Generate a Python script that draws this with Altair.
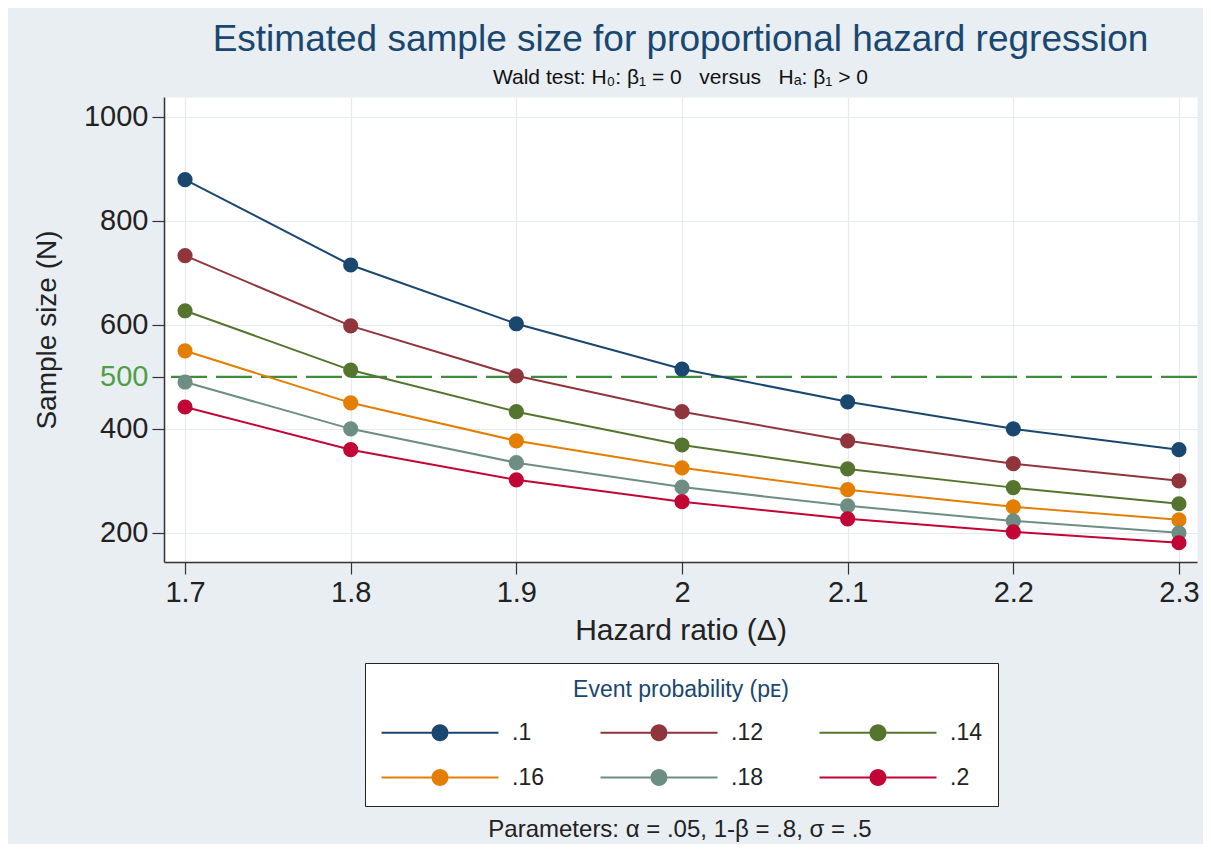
import altair as alt
import pandas as pd

# ---- data ----
hazard_ratio = [1.7, 1.8, 1.9, 2.0, 2.1, 2.2, 2.3]
event_prob = [".1", ".12", ".14", ".16", ".18", ".2"]
n_p10 = [879, 715, 602, 515, 452, 400, 360]
n_p12 = [733, 598, 502, 433, 377, 333, 300]
n_p14 = [627, 513, 433, 369, 323, 287, 256]
n_p16 = [550, 450, 377, 325, 283, 250, 225]
n_p18 = [490, 400, 335, 288, 252, 223, 200]
n_p20 = [442, 360, 302, 260, 227, 202, 181]
y_ticks = [200, 400, 500, 600, 800, 1000]
ref_line = [500]
note_text = ["Parameters: α = .05, 1-β = .8, σ = .5"]

series = [n_p10, n_p12, n_p14, n_p16, n_p18, n_p20]
rows = []
for p, vals in zip(event_prob, series):
    for h, n in zip(hazard_ratio, vals):
        rows.append({"hr": h, "N": n, "p": p})
df = pd.DataFrame(rows)

colors = ["#1a476f", "#90353b", "#55752f", "#e37e00", "#6e8e84", "#c10534"]
FONT = "Liberation Sans"

xscale = alt.Scale(domain=[1.6873, 2.3109], nice=False, zero=False)
yscale = alt.Scale(domain=[144, 1038], nice=False, zero=False)
cscale = alt.Scale(domain=event_prob, range=colors)

# custom legend symbol: line with a dot in the middle (units of 10 px)
sym = ("M-1.1,-0.1H3.9V0.1H-1.1Z "
       "M5.6,-0.1H10.6V0.1H5.6Z "
       "M5.6,0A0.85,0.85,0,1,1,3.9,0A0.85,0.85,0,1,1,5.6,0Z")

x_enc = alt.X("hr:Q", scale=xscale,
              axis=alt.Axis(values=hazard_ratio, format="~g", title="Hazard ratio (Δ)",
                            grid=True, titlePadding=8, titleFontSize=30))
y_enc = alt.Y("N:Q", scale=yscale,
              axis=alt.Axis(values=y_ticks, format="d", title="Sample size (N)", grid=True,
                            titlePadding=22, titleFontSize=28,
                            labelColor={"condition": {"test": "datum.value == 500", "value": "#4f9e45"},
                                        "value": "#222222"},
                            gridColor={"condition": {"test": "datum.value == 500", "value": "transparent"},
                                       "value": "#e4ebf0"}))

lines = alt.Chart(df).mark_line(strokeWidth=2).encode(
    x=x_enc, y=y_enc,
    color=alt.Color("p:N", scale=cscale, legend=None),
    detail="p:N",
)

points = alt.Chart(df).mark_circle(size=230, opacity=1).encode(
    x="hr:Q", y="N:Q",
    color=alt.Color("p:N", scale=cscale, sort=event_prob,
                    legend=alt.Legend(
                        title="Event probability (pᴇ)",
                        orient="none", legendX=201, legendY=566,
                        direction="horizontal", columns=3,
                        symbolType=sym, symbolSize=400, symbolStrokeWidth=0,
                        labelOffset=108, columnPadding=56, rowPadding=21,
                        padding=16, titlePadding=19, titleAnchor="middle",
                        titleFontSize=23, titleColor="#1a476f", titleFont=FONT,
                        titleFontWeight="normal", titleLimit=600,
                        labelFontSize=23, labelFont=FONT, labelColor="#222222",
                        strokeColor="#222222", fillColor="white",
                    )),
)

refdf = pd.DataFrame({"y": ref_line})
rule = alt.Chart(refdf).mark_rule(color="#3f8d3a", strokeWidth=2.2, strokeDash=[36, 9]).encode(
    y=alt.Y("y:Q", scale=yscale)
)

notedf = pd.DataFrame({"t": note_text})
note = alt.Chart(notedf).mark_text(fontSize=24, font=FONT, color="#222222",
                                   align="center", baseline="middle").encode(
    text="t:N", x=alt.value(516), y=alt.value(733)
)

chart = alt.layer(rule, lines, points, note).resolve_legend(color="independent").properties(
    width=1033, height=465,
    autosize=alt.AutoSizeParams(type="none"),
    padding={"left": 156, "top": 89, "right": 6, "bottom": 282},
    background="#e8eef2",
    title=alt.TitleParams(
        text="Estimated sample size for proportional hazard regression",
        subtitle="Wald test: H₀: β₁ = 0 \u00a0 versus \u00a0 Hₐ: β₁ > 0",
        font=FONT, fontSize=37, fontWeight="normal", color="#1a476f",
        subtitleFont=FONT, subtitleFontSize=21, subtitleColor="#111111",
        subtitlePadding=8, anchor="middle", offset=8,
    ),
).configure_view(fill="white", stroke="transparent").configure_axis(
    domainColor="#333333", domainWidth=1.5, tickColor="#333333", tickSize=12,
    tickWidth=1.2, labelFont=FONT, labelFontSize=29, labelColor="#222222",
    labelPadding=4, titleFont=FONT, titleFontWeight="normal",
    titleColor="#222222", gridColor="#e4ebf0", gridWidth=1.2,
)

chart.save("out.html", embed_options={"renderer": "svg", "actions": False})
